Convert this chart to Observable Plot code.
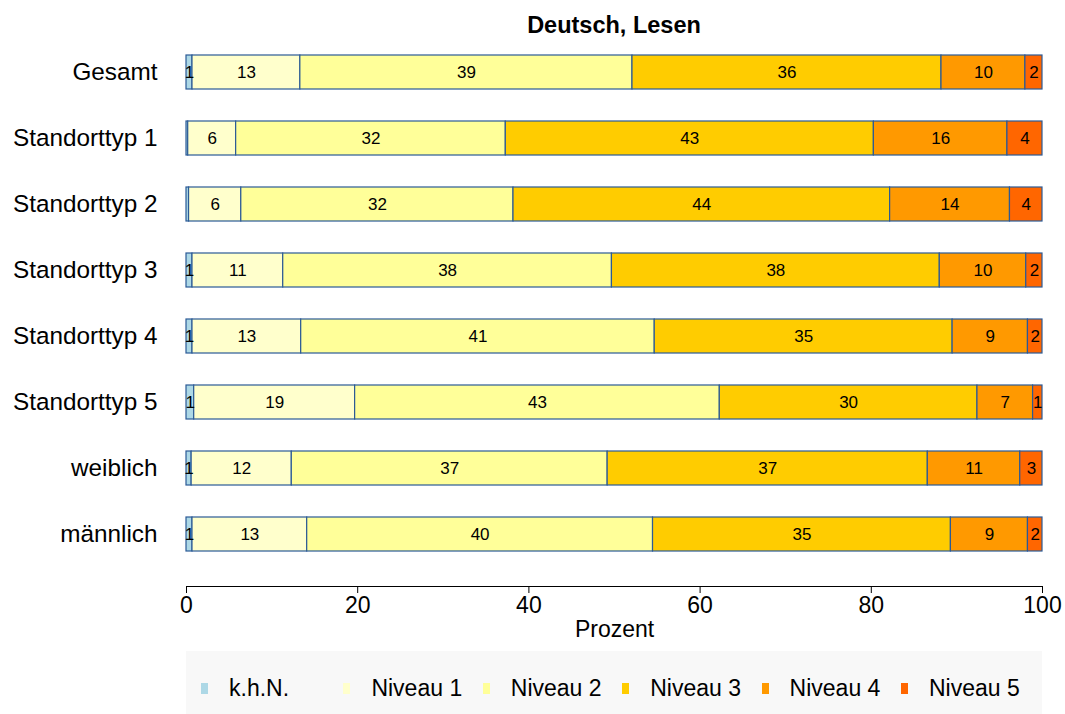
<!DOCTYPE html>
<html><head><meta charset="utf-8">
<script src="https://cdn.jsdelivr.net/npm/d3@7"></script>
<script src="https://cdn.jsdelivr.net/npm/@observablehq/plot@0.6"></script>
<style>
body{margin:0;background:#fff;font-family:"Liberation Sans",Arial,sans-serif;color:#000;}
#wrap{width:1065px;}
#title{height:40px;position:relative;}
#title span{position:absolute;left:186px;width:856px;top:11px;text-align:center;font-weight:bold;font-size:23.5px;line-height:28px;}
#chart svg{display:block;}
#legend{position:relative;height:63px;margin-left:186px;width:856px;background:#f8f8f8;}
.sw{position:absolute;top:32px;width:7px;height:11px;}
.lab{position:absolute;top:25px;font-size:23px;line-height:24px;white-space:nowrap;}
</style></head>
<body><div id="wrap"><div id="title"><span>Deutsch, Lesen</span></div><div id="chart"></div><div id="legend"></div></div>
<script>
const groups = ["Gesamt","Standorttyp 1","Standorttyp 2","Standorttyp 3","Standorttyp 4","Standorttyp 5","weiblich","männlich"];
const levels = ["k.h.N.","Niveau 1","Niveau 2","Niveau 3","Niveau 4","Niveau 5"];
const colors = ["#ADD8E6","#FFFFCC","#FFFF99","#FFCC00","#FF9900","#FF6600"];
const khn     = [0.7, 0.2, 0.3, 0.7, 0.7, 0.9, 0.6, 0.7];
const niveau1 = [12.6, 5.6, 6.1, 10.6, 12.7, 18.8, 11.7, 13.4];
const niveau2 = [38.8, 31.5, 31.8, 38.4, 41.3, 42.6, 36.9, 40.4];
const niveau3 = [36.1, 43.0, 44.0, 38.3, 34.8, 30.1, 37.4, 34.8];
const niveau4 = [9.8, 15.6, 14.0, 10.1, 8.8, 6.5, 10.8, 9.0];
const niveau5 = [2.0, 4.1, 3.8, 1.9, 1.7, 1.1, 2.6, 1.7];
const xTicks = [0, 20, 40, 60, 80, 100];

const series = [khn, niveau1, niveau2, niveau3, niveau4, niveau5];
const data = [];
groups.forEach((g, i) => series.forEach((s, j) => data.push({group: g, level: levels[j], value: s[i]})));

const chart = Plot.plot({
  width: 1065, height: 611,
  marginTop: 15, marginBottom: 65, marginLeft: 186, marginRight: 23,
  style: {fontFamily: '"Liberation Sans", Arial, sans-serif', fontSize: "23px", color: "#000", background: "transparent"},
  x: {domain: [0, 100], ticks: xTicks},
  y: {domain: groups, paddingInner: 0.487, paddingOuter: 0.249, align: 0, label: null},
  color: {domain: levels, range: colors},
  marks: [
    Plot.barX(data, Plot.stackX({x: "value", y: "group", z: "level", fill: "level", stroke: "#2B5A96", strokeWidth: 1.2})),
    Plot.text(data, Plot.stackX({x: "value", y: "group", z: "level",
      text: d => Math.round(d.value) >= 1 ? String(Math.round(d.value)) : "",
      fontSize: 17, fill: "#000"})),
    Plot.frame({anchor: "bottom", stroke: "#000"}),
    Plot.axisX({ticks: xTicks, tickSize: 7, tickPadding: 3, fontSize: 23, label: "Prozent", labelAnchor: "center", labelOffset: 50, labelArrow: "none"}),
    Plot.axisY({tickSize: 0, tickPadding: 29, fontSize: 24.3})
  ]
});
document.getElementById("chart").appendChild(chart);

const legend = document.getElementById("legend");
levels.forEach((l, i) => {
  const x0 = 15 + i * 139.4 + (i > 0 ? 3 : 0);
  const sw = document.createElement("div");
  sw.className = "sw"; sw.style.left = x0 + "px"; sw.style.background = colors[i];
  const t = document.createElement("div");
  t.className = "lab"; t.style.left = (x0 + 28) + "px"; t.textContent = l;
  legend.appendChild(sw); legend.appendChild(t);
});
</script></body></html>
